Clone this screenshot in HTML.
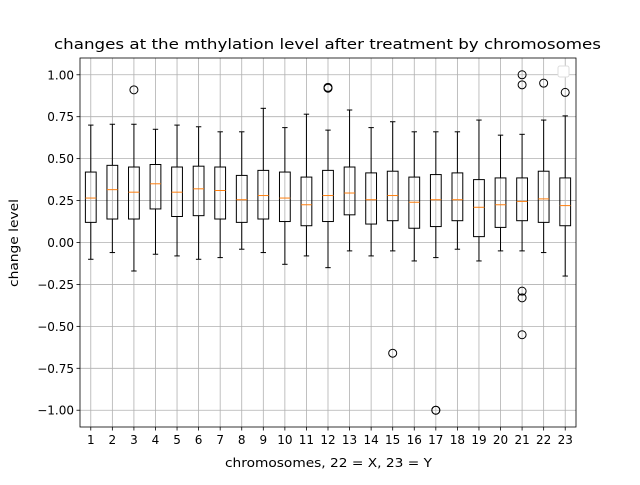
<!DOCTYPE html>
<html><head><meta charset="utf-8"><style>
body{margin:0;background:#fff;}
svg text{font-family:"DejaVu Sans","Liberation Sans",sans-serif;}
</style></head><body>
<svg id="chart" width="640" height="480" xmlns="http://www.w3.org/2000/svg">
<rect width="640" height="480" fill="#fff"/>
<g id="grid"></g><g id="marks"></g><g id="axes"></g>
<text x="54" y="49" font-size="14.4" textLength="547" lengthAdjust="spacingAndGlyphs">changes at the mthylation level after treatment by chromosomes</text>
<text x="225" y="467" font-size="12" textLength="207" lengthAdjust="spacingAndGlyphs">chromosomes, 22 = X, 23 = Y</text>
<text transform="translate(18,287) rotate(-90)" font-size="12" textLength="88" lengthAdjust="spacingAndGlyphs">change level</text>
<rect x="558" y="66" width="11" height="11" rx="2" fill="#fff" stroke="#ddd"/>
</svg>
<script>
const categories=["1","2","3","4","5","6","7","8","9","10","11","12","13","14","15","16","17","18","19","20","21","22","23"];
const whiskLow=[-0.10,-0.06,-0.17,-0.07,-0.08,-0.10,-0.09,-0.04,-0.06,-0.13,-0.08,-0.15,-0.05,-0.08,-0.05,-0.11,-0.09,-0.04,-0.11,-0.05,-0.05,-0.06,-0.20];
const q1=[0.12,0.14,0.14,0.20,0.155,0.16,0.14,0.12,0.14,0.125,0.10,0.125,0.165,0.11,0.13,0.085,0.095,0.13,0.035,0.09,0.13,0.12,0.10];
const medians=[0.265,0.315,0.30,0.35,0.30,0.32,0.31,0.255,0.28,0.265,0.225,0.28,0.295,0.255,0.28,0.24,0.255,0.255,0.21,0.225,0.245,0.26,0.22];
const q3=[0.42,0.46,0.45,0.465,0.45,0.455,0.45,0.40,0.43,0.42,0.39,0.43,0.45,0.415,0.425,0.39,0.405,0.415,0.375,0.385,0.385,0.425,0.385];
const whiskHigh=[0.70,0.705,0.705,0.675,0.70,0.69,0.66,0.66,0.80,0.685,0.765,0.67,0.79,0.685,0.72,0.66,0.66,0.66,0.73,0.64,0.645,0.73,0.755];
const fliers=[[],[],[0.91],[],[],[],[],[],[],[],[],[0.92,0.925],[],[],[-0.66],[],[-1.0,-1.0],[],[],[],[1.0,0.94,-0.29,-0.33,-0.55],[0.95],[0.895]];
const yTicks=[-1.0,-0.75,-0.5,-0.25,0,0.25,0.5,0.75,1.0];
const yTickLabels=["−1.00","−0.75","−0.50","−0.25","0.00","0.25","0.50","0.75","1.00"];

const L=80,R=576,T=58,B=427,ymin=-1.1,ymax=1.1;
const xs=i=>L+(i+0.5)*(R-L)/categories.length;
const ys=v=>B-(v-ymin)/(ymax-ymin)*(B-T);
const NS="http://www.w3.org/2000/svg";
function mk(parent,tag,attrs){const e=document.createElementNS(NS,tag);for(const k in attrs)e.setAttribute(k,attrs[k]);document.getElementById(parent).appendChild(e);return e;}
const unit=(R-L)/categories.length;
categories.forEach((c,i)=>{
  const x=xs(i);
  let g=mk('grid','line',{x1:x,x2:x,y1:T,y2:B,stroke:'#b0b0b0','stroke-width':0.8});
  
  
  let tk=mk('axes','line',{x1:x,x2:x,y1:B,y2:B+3.5,stroke:'#000','stroke-width':0.8});
  
  
  let t=mk('axes','text',{x:x,y:B+17,'text-anchor':'middle','font-size':12});t.textContent=c;
  
  
});
yTicks.forEach((v,i)=>{
  const y=ys(v);
  let g=mk('grid','line',{x1:L,x2:R,y1:y,y2:y,stroke:'#b0b0b0','stroke-width':0.8});
  
  
  let tk=mk('axes','line',{x1:L-3.5,x2:L,y1:y,y2:y,stroke:'#000','stroke-width':0.8});
  
  
  let t=mk('axes','text',{x:L-6,y:y+4.5,'text-anchor':'end','font-size':12});t.textContent=yTickLabels[i];
  
  
});
let fr=mk('axes','rect',{x:L,y:T,width:R-L,height:B-T,fill:'none',stroke:'#000','stroke-width':0.8});


categories.forEach((c,i)=>{
  const x=xs(i),bw=unit*0.5,cw=unit*0.25;
  const s={stroke:'#000','stroke-width':1,fill:'none'};
  let w1=mk('marks','line',Object.assign({x1:x,x2:x,y1:ys(q1[i]),y2:ys(whiskLow[i])},s));
  
  
  let w2=mk('marks','line',Object.assign({x1:x,x2:x,y1:ys(q3[i]),y2:ys(whiskHigh[i])},s));
  
  
  let c1=mk('marks','line',Object.assign({x1:x-cw/2,x2:x+cw/2,y1:ys(whiskLow[i]),y2:ys(whiskLow[i])},s));
  
  
  let c2=mk('marks','line',Object.assign({x1:x-cw/2,x2:x+cw/2,y1:ys(whiskHigh[i]),y2:ys(whiskHigh[i])},s));
  
  
  let b=mk('marks','rect',Object.assign({x:x-bw/2,y:ys(q3[i]),width:bw,height:ys(q1[i])-ys(q3[i])},s));
  
  
  let m=mk('marks','line',{x1:x-bw/2,x2:x+bw/2,y1:ys(medians[i]),y2:ys(medians[i]),stroke:'#ff7f0e','stroke-width':1});
  
  
  fliers[i].forEach(v=>{
    let o=mk('marks','circle',{cx:x,cy:ys(v),r:4,fill:'none',stroke:'#000','stroke-width':1});
    
    
  });
});
</script>
</body></html>
